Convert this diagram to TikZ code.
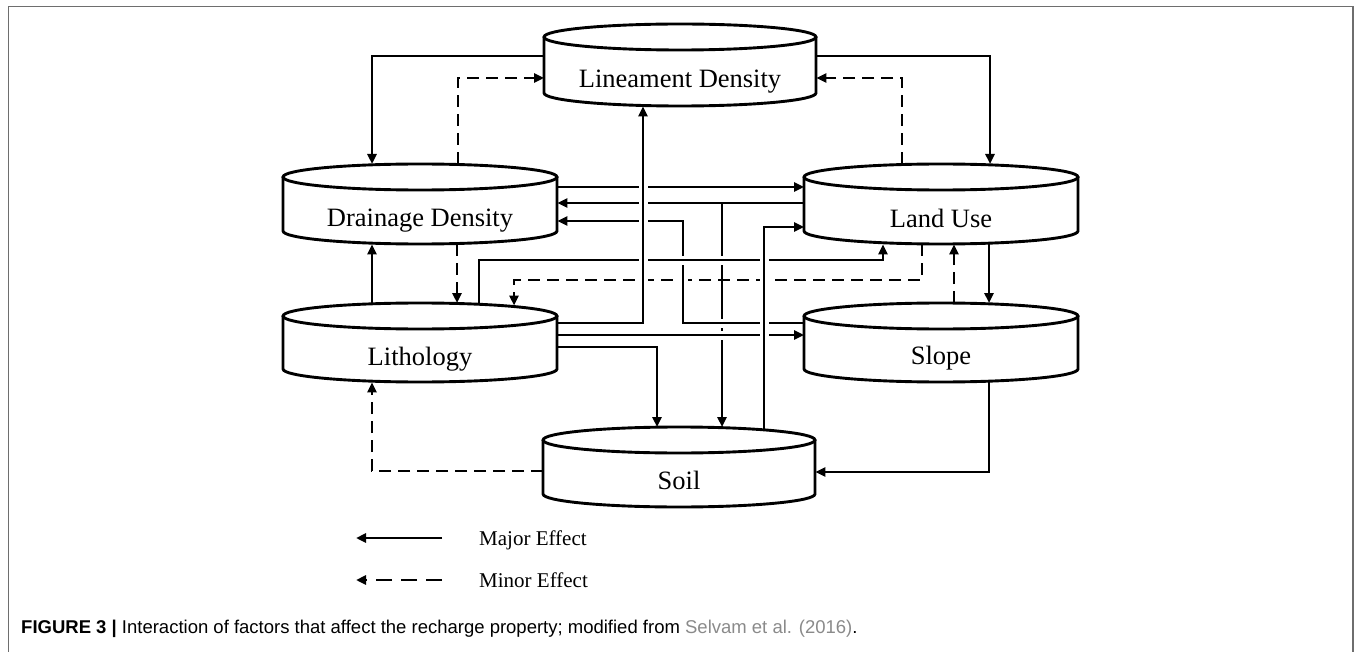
\documentclass[tikz,border=0pt]{standalone}
\usepackage{fontspec}
\setmainfont{Liberation Serif}
\newfontfamily\capfont{Liberation Sans}
\usetikzlibrary{arrows.meta,calc}
\definecolor{framegray}{HTML}{6E6E6E}
\definecolor{linkgray}{HTML}{8A8A8A}
\newcommand{\cylbody}[4]{%
  \pgfmathsetmacro\cylCX{(#1+#2)/2}%
  \pgfmathsetmacro\cylRX{(#2-#1)/2}%
  \pgfmathsetmacro\cylYT{#3+13}%
  \pgfmathsetmacro\cylYB{#4-13}%
  \path[fill=white] (#1,\cylYT) -- (#1,\cylYB) arc[start angle=180,end angle=360,x radius=\cylRX pt,y radius=13pt] -- (#2,\cylYT) -- cycle;
  \draw[cylline] (#1,\cylYT) -- (#1,\cylYB) arc[start angle=180,end angle=360,x radius=\cylRX pt,y radius=13pt] -- (#2,\cylYT);
  \draw[cylline,fill=white] (\cylCX,\cylYT) ellipse[x radius=\cylRX pt,y radius=13pt];
}
\begin{document}
\begin{tikzpicture}[x=1pt,y=-1pt,
  cylline/.style={line width=2.9pt,black},
  conn/.style={line width=2.8pt,-{Triangle[length=10pt,width=9pt]}},
  dsh/.style={dash pattern=on 12pt off 7pt},
  halo/.style={preaction={draw=white,line width=9pt,-,solid,shorten <=4pt,shorten >=4pt}},
  lbl/.style={font=\fontsize{26.5}{30}\selectfont,anchor=base,inner sep=0},
  box/.style={draw=none,inner sep=0,anchor=north west},
  legtxt/.style={font=\fontsize{21}{25}\selectfont,anchor=base west,inner sep=0}]
\useasboundingbox (0,0) rectangle (1356,652);
\draw[framegray,line width=1.5pt] (8.5,652) -- (8.5,6.5) -- (1353,6.5) -- (1353,652);

% cylinders
\cylbody{544}{816}{24}{106}
\cylbody{283}{557}{164}{244}
\cylbody{804}{1078}{164}{244}
\cylbody{283}{557}{303}{382}
\cylbody{804}{1078}{303}{382}
\cylbody{543}{815}{427}{507}
\node[box,minimum width=272pt,minimum height=82pt] (lin) at (544,24) {};
\node[box,minimum width=274pt,minimum height=80pt] (drain) at (283,164) {};
\node[box,minimum width=274pt,minimum height=80pt] (land) at (804,164) {};
\node[box,minimum width=274pt,minimum height=79pt] (lith) at (283,303) {};
\node[box,minimum width=274pt,minimum height=79pt] (slope) at (804,303) {};
\node[box,minimum width=272pt,minimum height=80pt] (soil) at (543,427) {};
\node[lbl] (linT) at (680,87.5) {Lineament Density};
\node[lbl] (drainT) at (420,227) {Drainage Density};
\node[lbl] (landT) at (941,227.5) {Land Use};
\node[lbl] (lithT) at (420,365) {Lithology};
\node[lbl] (slopeT) at (941,364) {Slope};
\node[lbl] (soilT) at (679,489) {Soil};

% turn points
\coordinate (c1) at (372,56);
\coordinate (c2) at (458,78);
\coordinate (c3) at (990,56);
\coordinate (c4) at (902,78);
\coordinate (cA) at (600,187);
\coordinate (cB) at (722,203);
\coordinate (cC1) at (683,323);
\coordinate (cC2) at (683,221);
\coordinate (cD1) at (479,260);
\coordinate (cD2) at (883,260);
\coordinate (cE1) at (922,280);
\coordinate (cE2) at (514,280);
\coordinate (cF) at (954,280);
\coordinate (cG) at (989,280);
\coordinate (cH) at (457,280);
\coordinate (cI) at (372,280);
\coordinate (cJ) at (643,323);
\coordinate (cK) at (600,335);
\coordinate (cL) at (657,347);
\coordinate (cM) at (989,472);
\coordinate (cN) at (372,471);
\coordinate (cO) at (764,227);

% connectors without crossings on top
\draw[conn] (lin.west |- c1) -- (c1) -- (c1 |- drain.north);
\draw[conn,dsh] (c2 |- drain.north) -- (c2) -- (c2 -| lin.west);
\draw[conn] (lin.east |- c3) -- (c3) -- (c3 |- land.north);
\draw[conn,dsh] (c4 |- land.north) -- (c4) -- (c4 -| lin.east);
\draw[conn] (drain.east |- cA) -- (land.west |- cA);
\draw[conn] (land.west |- cB) -- (drain.east |- cB);
\draw[conn] (cB) -- (cB |- soil.north);
\draw[conn,dsh,shorten >=-2.5pt] (cE1 |- land.south) -- (cE1) -- (cE2) -- (cE2 |- lith.north);
\draw[conn,dsh] (cF |- slope.north) -- (cF |- land.south);
\draw[conn] (cG |- land.south) -- (cG |- slope.north);
\draw[conn,dsh] (cH |- drain.south) -- (cH |- lith.north);
\draw[conn] (cI |- lith.north) -- (cI |- drain.south);
\draw[conn] (lith.east |- cL) -- (cL) -- (cL |- soil.north);
\draw[conn] (cM |- slope.south) -- (cM) -- (cM -| soil.east);
\draw[conn,dsh] (soil.west |- cN) -- (cN) -- (cN |- lith.south);

% connectors that pass over others
\draw[conn,halo] (slope.west |- cC1) -- (cC1) -- (cC2) -- (drain.east |- cC2);
\draw[conn,halo] (lith.east |- cK) -- (slope.west |- cK);
\draw[conn,halo] (cD1 |- lith.north) -- (cD1) -- (cD2) -- (cD2 |- land.south);
\draw[conn,halo] (lith.east |- cJ) -- (cJ) -- (cJ |- lin.south);
\draw[conn,halo] ($(cO |- soil.north)+(0,2.5)$) -- (cO) -- (cO -| land.west);

% legend
\coordinate (lgA1) at (442,538);
\coordinate (lgA2) at (356,538);
\coordinate (lgB1) at (442,580);
\coordinate (lgB2) at (356,580);
\draw[conn] (lgA1) -- (lgA2);
\draw[conn,dash pattern=on 16pt off 9pt] (lgB1) -- (lgB2);
\node[legtxt] (lgT1) at (479,545) {Major Effect};
\node[legtxt] (lgT2) at (479,587) {Minor Effect};

% caption
\node[anchor=base west,inner sep=0] (cap) at (21,633) {\capfont\fontsize{18.5}{22}\selectfont\textbf{FIGURE 3 |} Interaction of factors that affect the recharge property; modified from \textcolor{linkgray}{Selvam et al. (2016)}.};
\end{tikzpicture}
\end{document}
